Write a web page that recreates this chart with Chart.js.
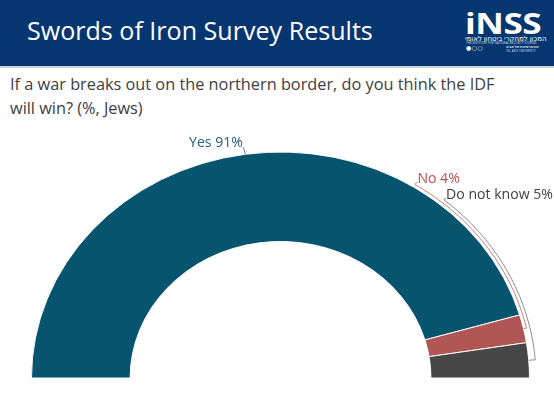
<!DOCTYPE html>
<html><head><meta charset="utf-8">
<script src="https://cdn.jsdelivr.net/npm/chart.js"></script>
<style>
html,body{margin:0;padding:0;width:554px;height:393px;overflow:hidden;background:#fff;}
#header{position:absolute;left:0;top:0;width:554px;height:66px;background:#06366F;}
#rule{position:absolute;left:0;top:66px;width:554px;height:2px;background:#C9D1DC;}
.t{position:absolute;white-space:nowrap;line-height:1;}
#title{left:27px;top:20px;color:#fff;font-family:"Open Sans","Noto Sans",sans-serif;font-size:22px;}
#q1,#q2{left:10px;color:#404040;font-family:"Open Sans","Noto Sans",sans-serif;font-size:14px;}
#inss{left:465px;top:14px;color:#fff;font-family:"Open Sans","Lato",sans-serif;font-weight:700;font-size:22px;letter-spacing:-0.5px;transform:scaleY(0.8);transform-origin:0 85%;}
#heb{left:465px;top:35px;color:#fff;font-family:"Noto Sans","DejaVu Sans",sans-serif;font-size:7px;direction:rtl;}
#eng{left:466px;top:42px;color:#c9d3e3;font-family:"Noto Sans",sans-serif;font-size:3px;}
#dots{left:466px;top:45px;color:#fff;font-family:"DejaVu Sans",sans-serif;font-size:6px;letter-spacing:0.5px;}
#sm1{left:506px;top:45px;color:#dfe6f0;font-family:"Noto Sans",sans-serif;font-size:3.5px;font-weight:bold;}
#sm2{left:506px;top:50px;color:#c9d3e3;font-family:"Noto Sans",sans-serif;font-size:3px;}
canvas{position:absolute;left:0;top:0;}
</style></head>
<body>
<div id="header"></div><div id="rule"></div>
<div id="title" class="t">Swords of Iron Survey Results</div>
<div id="inss" class="t">iNSS</div>
<div id="heb" class="t">המכון למחקרי ביטחון לאומי</div>
<div id="eng" class="t">THE INSTITUTE FOR NATIONAL SECURITY STUDIES</div>
<div id="dots" class="t">●○○</div>
<div id="sm1" class="t">אוניברסיטת תל אביב</div>
<div id="sm2" class="t">TEL AVIV UNIVERSITY</div>
<div id="q1" class="t">If a war breaks out on the northern border, do you think the IDF</div>
<div id="q2" class="t">will win? (%, Jews)</div>
<canvas id="c" width="554" height="393"></canvas>
<script>
// ---- data ----
const categories = ['Yes', 'No', 'Do not know'];
const values = [91, 4, 5];
const labelTexts = ['Yes 91%', 'No 4%', 'Do not know 5%'];

// ---- styles ----
const segColors = ['#06546E', '#B05654', '#474747'];
const labelColors = ['#245E7C', '#C0504D', '#404040'];
const lineColors = ['#5E8296', '#CC7B78', '#8A8A8A'];
const SY = 226 / 249; // vertical squash of the reference
const leaders = [
  {type: 'tick', dx: -2, dy: -7},
  {type: 'arc', r: 252, startDeg: 57.8, tx: 2.6, ty: -1.5},
  {type: 'arc', r: 255.5, startDeg: 50.3, tx: 2.4, ty: -0.6}
];
const labelFontFamily = '"Open Sans", "Noto Sans", sans-serif';

// ---- fit header text by width and baseline ----
function place(id, targetLeft, targetRight, baseline, size) {
  const el = document.getElementById(id);
  if (size) el.style.fontSize = size + 'px';
  if (targetRight != null) {
    const w = el.getBoundingClientRect().width;
    const fs = parseFloat(getComputedStyle(el).fontSize);
    el.style.fontSize = (fs * (targetRight - targetLeft) / w) + 'px';
  }
  const m = document.createElement('span');
  m.style.display = 'inline-block'; m.style.width = '0'; m.style.height = '0';
  el.appendChild(m);
  const b = m.getBoundingClientRect().top;
  el.style.top = (parseFloat(el.style.top || getComputedStyle(el).top) + baseline - b) + 'px';
  return parseFloat(el.style.fontSize || getComputedStyle(el).fontSize);
}
place('title', 27, 373, 39.5);
const qs = place('q1', 10, 495, 90);
place('q2', null, null, 114.3, qs);
place('inss', 465, 540, 34);

// ---- chart ----
const labelPlugin = {
  id: 'ellipseAndLabels',
  beforeDatasetsDraw(chart) {
    const a = chart.getDatasetMeta(0).data[0];
    const ctx = chart.ctx;
    ctx.save();
    ctx.translate(a.x, a.y); ctx.scale(1, SY); ctx.translate(-a.x, -a.y);
  },
  afterDatasetsDraw(chart) { chart.ctx.restore(); },
  afterDraw(chart) {
    const ctx = chart.ctx;
    const arcs = chart.getDatasetMeta(0).data;
    ctx.save();
    ctx.font = '14px ' + labelFontFamily;
    const w = ctx.measureText(labelTexts[2]).width;
    const fs = 14 * 107 / w;
    ctx.font = fs + 'px ' + labelFontFamily;
    ctx.textBaseline = 'alphabetic';
    arcs.forEach((arc, i) => {
      const cx = arc.x, cy = arc.y, R = arc.outerRadius;
      const mid = (arc.startAngle + arc.endAngle) / 2;
      const L = leaders[i];
      const pt = (r, t) => [cx + r * Math.cos(t), cy + r * SY * Math.sin(t)];
      ctx.strokeStyle = lineColors[i];
      ctx.lineWidth = 1;
      ctx.beginPath();
      let tx, ty;
      if (L.type === 'tick') {
        const p = pt(R, mid);
        ctx.moveTo(p[0], p[1]);
        ctx.lineTo(p[0] + L.dx, p[1] + L.dy);
        tx = p[0] + L.dx - 0.5; ty = p[1] + L.dy;
        ctx.textAlign = 'right';
      } else {
        const t0 = -L.startDeg * Math.PI / 180;
        const s = pt(L.r, t0);
        ctx.moveTo(s[0] + L.tx, s[1] + L.ty - 1);
        ctx.lineTo(s[0], s[1]);
        const n = 60;
        for (let k = 1; k <= n; k++) {
          const t = t0 + (mid - t0) * k / n;
          const p = pt(L.r, t);
          ctx.lineTo(p[0], p[1]);
        }
        const e = pt(R + 0.5, mid);
        ctx.lineTo(e[0], e[1]);
        tx = s[0] + L.tx; ty = s[1] + L.ty;
        ctx.textAlign = 'left';
      }
      ctx.stroke();
      ctx.fillStyle = labelColors[i];
      ctx.fillText(labelTexts[i], tx, ty);
    });
    ctx.restore();
  }
};

new Chart(document.getElementById('c'), {
  type: 'doughnut',
  data: {
    labels: categories,
    datasets: [{
      data: values,
      backgroundColor: segColors,
      borderColor: '#ffffff',
      borderWidth: 1
    }]
  },
  options: {
    responsive: false,
    animation: false,
    events: [],
    rotation: -90,
    circumference: 180,
    radius: 249,
    cutout: '60.4%',
    layout: {padding: {left: 31.5, right: 24.5, top: 129, bottom: 15}},
    plugins: {legend: {display: false}, tooltip: {enabled: false}}
  },
  plugins: [labelPlugin]
});
</script>
</body></html>
